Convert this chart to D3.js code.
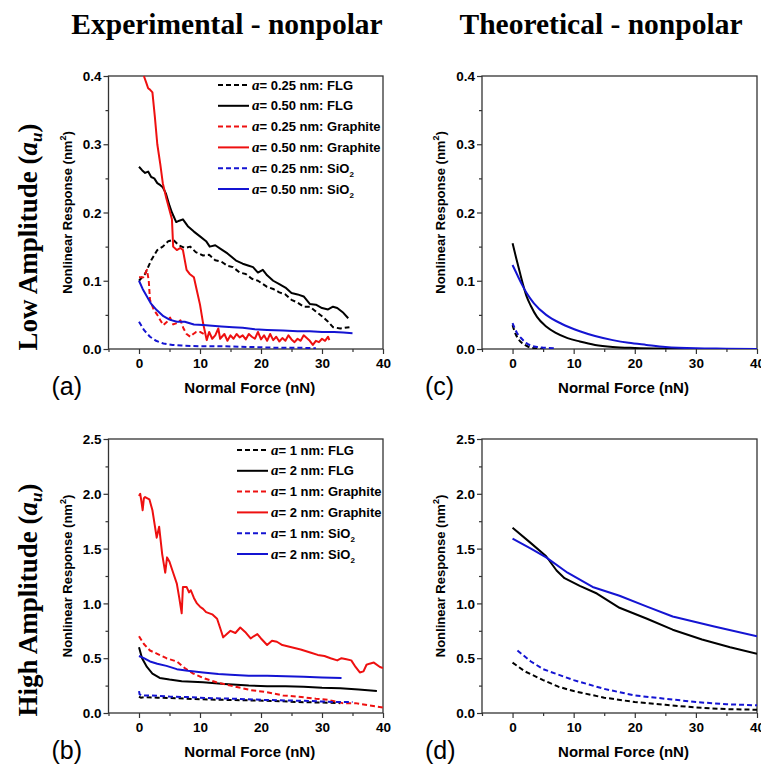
<!DOCTYPE html>
<html>
<head>
<meta charset="utf-8">
<script src="https://cdn.jsdelivr.net/npm/d3@7"></script>
<style>
  body { margin: 0; background: #fff; }
  svg text { font-family: Arial, "Liberation Sans", sans-serif; }
  svg text.serif, svg tspan.serif { font-family: "Liberation Serif", "Times New Roman", "DejaVu Serif", serif; }
  .tick text { font-weight: bold; font-size: 13.5px; }
</style>
</head>
<body>
<div id="chart"></div>
<script>
// ---- data: [normal force (nN), nonlinear response (nm^2)] ----
// (a) experimental, low amplitude
const expLowFLG025 = [[0,0.1],[1,0.11],[2,0.13],[3,0.145],[3.9,0.15],[4.8,0.158],[5.6,0.16],[6.5,0.152],[7.5,0.148],[8.4,0.15],[9.3,0.142],[10.5,0.137],[11.5,0.138],[12.5,0.13],[13.5,0.128],[14.5,0.122],[15.4,0.12],[16.5,0.112],[17.5,0.11],[18.5,0.103],[19.5,0.1],[21,0.091],[22,0.088],[23,0.083],[24,0.08],[25,0.072],[26,0.068],[27,0.062],[28,0.062],[29,0.055],[30,0.048],[31,0.04],[31.8,0.032],[33,0.03],[34.5,0.032]];
const expLowFLG050 = [[0,0.267],[0.5,0.262],[1,0.258],[1.5,0.26],[2,0.252],[2.5,0.25],[3,0.243],[3.5,0.24],[3.9,0.237],[4.4,0.228],[5,0.21],[5.4,0.2],[6.1,0.186],[6.6,0.188],[7.2,0.19],[8,0.18],[9,0.172],[10,0.165],[11,0.158],[11.6,0.15],[12.5,0.152],[13.5,0.146],[14.5,0.14],[16,0.129],[17,0.125],[18,0.122],[18.7,0.12],[19.5,0.112],[20.3,0.116],[21,0.108],[22,0.1],[23,0.095],[24,0.09],[25,0.082],[26,0.08],[27,0.077],[28,0.066],[29,0.065],[30,0.06],[31,0.058],[31.8,0.062],[32.5,0.06],[33.5,0.053],[34.3,0.045]];
const expLowGra025 = [[0,0.105],[0.7,0.105],[1.3,0.116],[1.6,0.1],[1.8,0.072],[2.4,0.058],[3,0.05],[3.5,0.042],[4,0.035],[4.6,0.04],[5.1,0.046],[5.6,0.036],[6.2,0.038],[6.8,0.042],[7.3,0.03],[7.8,0.022],[8.4,0.018],[8.9,0.022],[9.4,0.025],[10,0.025],[10.6,0.022]];
const expLowGra050 = [[0.8,0.4],[1.2,0.39],[1.5,0.382],[1.8,0.38],[2.2,0.376],[2.6,0.34],[3,0.3],[3.5,0.27],[3.9,0.243],[4.5,0.22],[5.4,0.19],[5.6,0.15],[6.2,0.145],[6.8,0.148],[7.2,0.145],[7.8,0.116],[8.3,0.11],[9,0.105],[9.5,0.085],[10,0.065],[10.5,0.038],[11.1,0.013],[11.5,0.025],[12,0.015],[12.5,0.02],[13,0.03],[13.3,0.015],[14,0.022],[14.5,0.012],[15,0.02],[15.5,0.015],[16,0.022],[16.5,0.017],[17,0.02],[17.5,0.014],[18,0.022],[18.5,0.018],[19,0.015],[19.5,0.025],[20,0.014],[20.5,0.02],[21,0.012],[21.5,0.022],[22,0.013],[22.5,0.018],[23,0.011],[23.5,0.016],[24,0.012],[24.5,0.02],[25,0.014],[25.5,0.01],[26,0.015],[26.5,0.012],[27,0.02],[27.5,0.016],[28,0.012],[28.5,0.006],[29,0.012],[29.5,0.01],[30,0.015],[30.5,0.012],[31,0.018],[31.2,0.013]];
const expLowSiO025 = [[0,0.04],[0.8,0.028],[1.8,0.018],[2.8,0.012],[4,0.008],[5.5,0.006],[7,0.005],[10,0.004],[14,0.004],[18,0.003],[22,0.002],[26,0.002],[29,0.001]];
const expLowSiO050 = [[0,0.1],[0.6,0.088],[1.3,0.077],[2,0.066],[2.9,0.057],[4,0.048],[5,0.043],[6.2,0.04],[7.5,0.04],[9,0.036],[10.5,0.035],[12,0.034],[13.5,0.033],[15.4,0.032],[17,0.031],[19,0.029],[21,0.028],[23.6,0.027],[26,0.026],[28,0.026],[30,0.025],[32,0.025],[33.5,0.024],[35,0.023]];

// (c) theoretical, low amplitude
const thLowFLG025 = [[0,0.035],[0.5,0.022],[1,0.014],[1.5,0.009],[2,0.006],[3,0.002],[4,0.001],[5,0]];
const thLowFLG050 = [[0,0.155],[0.6,0.133],[1.2,0.112],[1.7,0.095],[2.3,0.077],[3,0.063],[4,0.047],[5.5,0.033],[7,0.024],[9,0.016],[11,0.011],[13.5,0.006],[16.4,0.003],[20,0.0015],[25,0.0005],[30,0],[40,0]];
const thLowSiO025 = [[0,0.038],[0.7,0.024],[1.5,0.015],[2.2,0.009],[3,0.005],[4,0.003],[5,0.002],[7,0.001]];
const thLowSiO050 = [[0,0.123],[0.8,0.108],[1.5,0.095],[2.3,0.082],[3.5,0.067],[5.5,0.05],[8,0.037],[11,0.026],[13.5,0.019],[16.4,0.013],[19,0.009],[21.9,0.006],[25,0.003],[30,0.001],[35,0.0005],[40,0]];

// (b) experimental, high amplitude
const expHighFLG1 = [[0,0.15],[0.3,0.14],[1,0.145],[3,0.14],[6,0.135],[10,0.125],[14,0.12],[18,0.115],[22,0.11],[26,0.1],[30,0.095],[33,0.09]];
const expHighFLG2 = [[0,0.6],[0.5,0.5],[1.3,0.42],[2.2,0.36],[3.4,0.32],[5,0.305],[7,0.29],[10.5,0.28],[14,0.265],[18,0.25],[21,0.245],[24,0.245],[27,0.24],[30,0.23],[33,0.225],[36,0.215],[39,0.2]];
const expHighGra1 = [[0,0.7],[0.8,0.63],[1.8,0.57],[3,0.54],[4.5,0.5],[6.2,0.47],[7.5,0.41],[8.9,0.36],[10.5,0.32],[12.7,0.28],[15,0.25],[18.2,0.21],[21,0.19],[23.6,0.16],[26,0.15],[29,0.13],[31,0.12],[33.4,0.09],[35.5,0.09],[37.8,0.07],[40,0.05]];
const expHighGra2 = [[0,1.98],[0.2,2.0],[0.4,1.93],[0.6,1.85],[0.8,1.96],[1,1.97],[1.7,1.95],[2.2,1.85],[2.9,1.6],[3.3,1.7],[3.8,1.45],[4.3,1.28],[4.6,1.42],[5,1.38],[5.6,1.28],[6.2,1.18],[6.6,1.05],[7,0.91],[7.2,1.15],[7.8,1.15],[8.2,1.1],[8.5,1.12],[9,1.05],[9.5,1.0],[10,0.97],[10.5,0.95],[11,0.92],[12,0.9],[12.8,0.86],[13.4,0.76],[13.8,0.69],[14.4,0.72],[15,0.75],[15.8,0.73],[16.6,0.78],[17.4,0.74],[18.3,0.68],[18.8,0.7],[19.4,0.72],[20,0.68],[21,0.62],[21.8,0.66],[22.6,0.65],[23.5,0.62],[25,0.6],[26.5,0.58],[28.2,0.55],[29.3,0.53],[30.4,0.52],[31.4,0.5],[32.5,0.48],[33.2,0.5],[34,0.49],[34.8,0.48],[35.5,0.42],[36.2,0.37],[36.8,0.38],[37.3,0.44],[37.8,0.45],[38.5,0.46],[39.5,0.42],[40,0.41]];
const expHighSiO1 = [[0,0.2],[0.1,0.17],[0.5,0.16],[2,0.16],[5,0.15],[8,0.145],[12,0.135],[16,0.13],[20,0.12],[24,0.115],[28,0.11],[32,0.1],[35,0.1]];
const expHighSiO2 = [[0,0.52],[0.8,0.5],[1.8,0.47],[3,0.45],[4.5,0.43],[6.2,0.4],[8,0.385],[10.5,0.37],[13,0.355],[15,0.35],[18,0.34],[21,0.34],[24,0.335],[27,0.33],[30,0.325],[33.2,0.32]];

// (d) theoretical, high amplitude
const thHighFLG1 = [[0,0.46],[2,0.38],[5,0.3],[7.5,0.24],[10,0.2],[15,0.14],[20,0.1],[25,0.075],[30,0.05],[35,0.035],[40,0.03]];
const thHighFLG2 = [[0,1.69],[3,1.55],[5.5,1.43],[7.2,1.3],[8.5,1.23],[11,1.16],[13.8,1.09],[17.5,0.96],[22,0.86],[26.2,0.76],[31,0.67],[35.6,0.6],[40,0.54]];
const thHighSiO1 = [[0.8,0.57],[3,0.47],[5,0.4],[7.5,0.35],[10,0.3],[12.5,0.26],[15,0.22],[17.5,0.19],[20,0.16],[25,0.13],[30,0.1],[35,0.08],[40,0.07]];
const thHighSiO2 = [[0,1.59],[3,1.5],[5.5,1.42],[9,1.28],[13.1,1.15],[17.5,1.07],[22,0.97],[26.2,0.88],[33,0.79],[40,0.7]];

const xTicks = [0, 10, 20, 30, 40];
const lowYTicks = [0.0, 0.1, 0.2, 0.3, 0.4];
const highYTicks = [0.0, 0.5, 1.0, 1.5, 2.0, 2.5];
const lowLegend = ["0.25 nm: FLG", "0.50 nm: FLG", "0.25 nm: Graphite", "0.50 nm: Graphite", "0.25 nm: SiO", "0.50 nm: SiO"];
const highLegend = ["1 nm: FLG", "2 nm: FLG", "1 nm: Graphite", "2 nm: Graphite", "1 nm: SiO", "2 nm: SiO"];

const BLACK = "#000000", RED = "#ee1010", BLUE = "#1414d2";
const DASH = "5,3";

const width = 761, height = 769;
const svg = d3.select("#chart").append("svg")
    .attr("width", width).attr("height", height)
    .style("background", "#fff");

function drawPanel(opt){
    const x = d3.scaleLinear().domain([-5, 40]).range([opt.left, opt.right]);
    const y = d3.scaleLinear().domain([0, opt.yMax]).range([opt.bottom, opt.top]);
    const g = svg.append("g");

    // major + minor ticks
    const xAxis = d3.axisBottom(x).tickValues(d3.range(-5, 41, 5))
        .tickSize(0).tickFormat("");
    const gx = g.append("g").attr("transform", `translate(0,${opt.bottom})`).call(xAxis);
    gx.select(".domain").remove();
    gx.selectAll(".tick").append("line")
        .attr("y2", (d) => xTicks.includes(d) ? 5 : 3)
        .attr("stroke", "#333").attr("stroke-width", 1.2);
    gx.selectAll(".tick").filter((d) => xTicks.includes(d)).append("text")
        .attr("y", 19).attr("fill", "#000").attr("text-anchor", "middle")
        .text((d) => d);

    const yAll = d3.range(0, opt.yMax + 1e-9, opt.yMinor);
    const yAxis = d3.axisLeft(y).tickValues(yAll).tickSize(0).tickFormat("");
    const gy = g.append("g").attr("transform", `translate(${opt.left},0)`).call(yAxis);
    gy.select(".domain").remove();
    const isMajor = (d) => opt.yTicks.some((t) => Math.abs(t - d) < 1e-6);
    gy.selectAll(".tick").append("line")
        .attr("x2", (d) => isMajor(d) ? -5 : -3)
        .attr("stroke", "#333").attr("stroke-width", 1.2);
    gy.selectAll(".tick").filter(isMajor).append("text")
        .attr("x", -7).attr("dy", "0.35em").attr("fill", "#000").attr("text-anchor", "end")
        .text((d) => d.toFixed(1));

    // frame
    g.append("rect")
        .attr("x", opt.left).attr("y", opt.top)
        .attr("width", opt.right - opt.left).attr("height", opt.bottom - opt.top)
        .attr("fill", "none").attr("stroke", "#333").attr("stroke-width", 1.3);

    const clipId = "clip" + opt.id;
    svg.append("clipPath").attr("id", clipId).append("rect")
        .attr("x", opt.left).attr("y", opt.top - 1)
        .attr("width", opt.right - opt.left).attr("height", opt.bottom - opt.top + 1);

    const line = d3.line().curve(opt.curve || d3.curveLinear)
        .x((d) => x(d[0])).y((d) => y(d[1]));
    const plot = g.append("g").attr("clip-path", `url(#${clipId})`);
    opt.series.forEach((s) => {
        plot.append("path").datum(s.data)
            .attr("d", line)
            .attr("fill", "none")
            .attr("stroke", s.color)
            .attr("stroke-width", 2)
            .attr("stroke-linejoin", "round")
            .attr("stroke-dasharray", s.dash ? DASH : null);
    });

    // axis titles
    g.append("text")
        .attr("x", (opt.left + opt.right) / 2 + 4).attr("y", opt.bottom + 44)
        .attr("text-anchor", "middle").attr("font-weight", "bold").attr("font-size", 15)
        .text("Normal Force (nN)");
    const yt = g.append("text")
        .attr("transform", `translate(${opt.left - 37},${(opt.top + opt.bottom) / 2}) rotate(-90)`)
        .attr("text-anchor", "middle").attr("font-weight", "bold").attr("font-size", 13);
    yt.append("tspan").text("Nonlinear Response (nm");
    yt.append("tspan").attr("font-size", 9).attr("dy", -6).text("2");
    yt.append("tspan").attr("dy", 6).text(")");

    // panel letter
    g.append("text")
        .attr("x", opt.left - 57).attr("y", opt.bottom + 46)
        .attr("font-size", 25).attr("fill", "#000")
        .text(opt.letter);

    // legend
    if(opt.legend){
        const lg = g.append("g");
        opt.legend.labels.forEach((lab, i) => {
            const s = opt.series[i];
            const yy = opt.legend.y + i * 20.8;
            lg.append("line")
                .attr("x1", opt.legend.x).attr("x2", opt.legend.x + 31)
                .attr("y1", yy).attr("y2", yy)
                .attr("stroke", s.color).attr("stroke-width", 2)
                .attr("stroke-dasharray", s.dash ? DASH : null);
            const t = lg.append("text")
                .attr("x", opt.legend.x + 34).attr("y", yy + 4.5)
                .attr("font-weight", "bold").attr("font-size", 13);
            t.append("tspan").attr("class", "serif")
                .attr("font-style", "italic").attr("font-size", 15).text("a");
            t.append("tspan").text("= " + lab);
            if(lab.endsWith("SiO")){
                t.append("tspan").attr("font-size", 8).attr("dy", 4).text("2");
            }
        });
    }
}

function seriesSet(f1, f2, g1, g2, s1, s2){
    const out = [
        {data: f1, color: BLACK, dash: true},
        {data: f2, color: BLACK, dash: false}
    ];
    if(g1){
        out.push({data: g1, color: RED, dash: true});
        out.push({data: g2, color: RED, dash: false});
    }
    out.push({data: s1, color: BLUE, dash: true});
    out.push({data: s2, color: BLUE, dash: false});
    return out;
}

const lowExp = seriesSet(expLowFLG025, expLowFLG050, expLowGra025, expLowGra050, expLowSiO025, expLowSiO050);
const highExp = seriesSet(expHighFLG1, expHighFLG2, expHighGra1, expHighGra2, expHighSiO1, expHighSiO2);
const lowTh = seriesSet(thLowFLG025, thLowFLG050, null, null, thLowSiO025, thLowSiO050);
const highTh = seriesSet(thHighFLG1, thHighFLG2, null, null, thHighSiO1, thHighSiO2);

drawPanel({id: "a", letter: "(a)", left: 108.5, right: 383, top: 76, bottom: 349,
    yMax: 0.4, yMinor: 0.05, yTicks: lowYTicks, series: lowExp,
    legend: {x: 218, y: 85, labels: lowLegend}});
drawPanel({id: "c", letter: "(c)", left: 482, right: 757, top: 76, bottom: 349,
    yMax: 0.4, yMinor: 0.05, yTicks: lowYTicks, series: lowTh, curve: d3.curveMonotoneX});
drawPanel({id: "b", letter: "(b)", left: 108.5, right: 383, top: 439, bottom: 713,
    yMax: 2.5, yMinor: 0.25, yTicks: highYTicks, series: highExp,
    legend: {x: 237, y: 450, labels: highLegend}});
drawPanel({id: "d", letter: "(d)", left: 482, right: 757, top: 439, bottom: 713,
    yMax: 2.5, yMinor: 0.25, yTicks: highYTicks, series: highTh});

// column titles
svg.append("text").attr("class", "serif").attr("x", 227).attr("y", 34).attr("text-anchor", "middle")
    .attr("font-weight", "bold").attr("font-size", 29.5)
    .text("Experimental - nonpolar");
svg.append("text").attr("class", "serif").attr("x", 601).attr("y", 34).attr("text-anchor", "middle")
    .attr("font-weight", "bold").attr("font-size", 29.5)
    .text("Theoretical - nonpolar");

// row titles
[["Low Amplitude ", 237], ["High Amplitude ", 600]].forEach(([lab, cy]) => {
    const t = svg.append("text").attr("class", "serif")
        .attr("transform", `translate(37,${cy}) rotate(-90)`)
        .attr("text-anchor", "middle")
        .attr("font-weight", "bold").attr("font-size", 27);
    t.append("tspan").text(lab + "(");
    t.append("tspan").attr("font-style", "italic").text("a");
    t.append("tspan").attr("font-style", "italic").attr("font-size", 17).attr("dy", 5).text("u");
    t.append("tspan").attr("dy", -5).text(")");
});
</script>
</body>
</html>
